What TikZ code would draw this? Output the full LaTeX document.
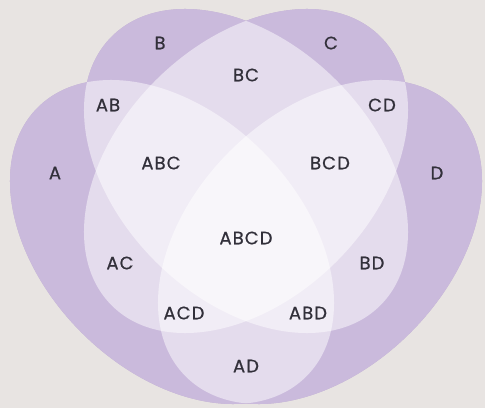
\documentclass[tikz,border=0pt]{standalone}
\usepackage{fontspec}
\newfontfamily\vennfont[LetterSpace=6,FakeBold=0.6]{Poppins}
\definecolor{vennbg}{RGB}{232,228,226}
\definecolor{vennpurple}{RGB}{150,118,186}
\definecolor{vennink}{RGB}{50,48,58}

\begin{document}
\begin{tikzpicture}[x=1pt,y=1pt,lbl/.style={font=\vennfont\fontsize{18}{18}\selectfont,text=vennink}]
    \useasboundingbox (0,0) rectangle (485,408);
    \fill[vennbg] (0,0) rectangle (485,408);
    % the four sets A, B, C, D
    \foreach \cx/\cy/\ang in {172/166/-45,246/237/-45,246/237/45,320/166/45}{
      \fill[vennpurple,rotate around={\ang:(\cx,\cy)}] (\cx,\cy) ellipse [x radius=190pt,y radius=128pt];}
    \foreach \cx/\cy/\ang in {172/166/-45,246/237/-45,246/237/45,320/166/45}{
      \fill[white,fill opacity=.5,rotate around={\ang:(\cx,\cy)}] (\cx,\cy) ellipse [x radius=190pt,y radius=128pt];}
    % region labels
    \foreach \name/\x/\y in {A/55/235,B/160/365,C/331/365,D/437/235,AB/108/303,BC/246/333,CD/382/303,ABC/161/245,BCD/330/245,ABCD/246/170,AC/120/145,BD/372/145,ACD/184/95,ABD/308/95,AD/246/42}{
      \node[lbl] (\name) at (\x,\y) {\name};}
  \end{tikzpicture}
\end{document}
